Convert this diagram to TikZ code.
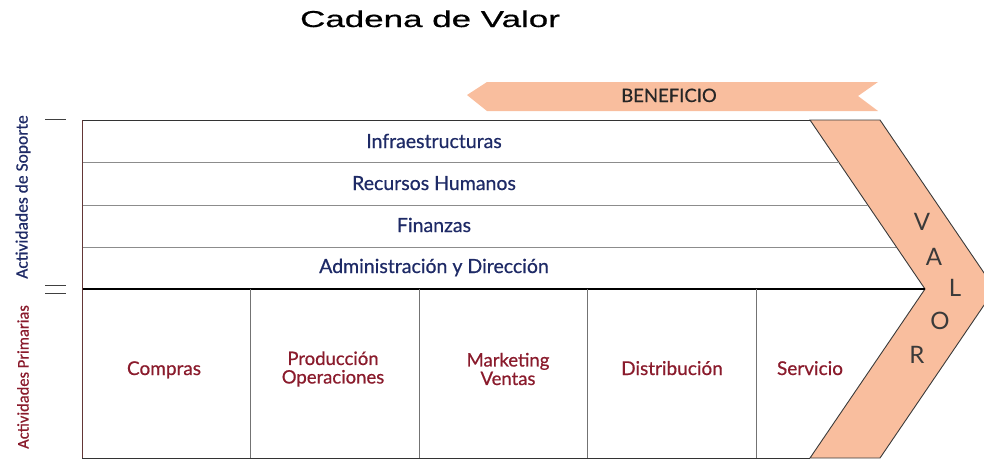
\documentclass[tikz,border=0pt]{standalone}
\usepackage{fontspec}
\setmainfont{Lato}
\newfontfamily\medfont[FakeBold=0.6]{Lato}
\newfontfamily\titlefont[FakeBold=0.5]{Liberation Sans}
\newfontfamily\sidefont[FakeBold=0.5]{Carlito}
\definecolor{navy}{HTML}{1E2A66}
\definecolor{wine}{HTML}{8A1B2C}
\definecolor{salmon}{HTML}{F9BE9E}
\definecolor{edge}{HTML}{3A3A3A}
\tikzset{
  sup/.style={anchor=base,inner sep=0pt,text=navy,font=\medfont\fontsize{19.5}{21}\selectfont},
  prim/.style={anchor=base,inner sep=0pt,text=wine,font=\medfont\fontsize{19}{21}\selectfont},
  primtwo/.style={anchor=center,inner sep=0pt,align=center,text=wine,font=\medfont\fontsize{18.5}{18.5}\selectfont},
  side/.style={rotate=90,inner sep=0pt},
  valor/.style={inner sep=0pt,text=edge,font=\fontsize{24}{26}\selectfont},
  rowline/.style={draw=gray!90,line width=0.9pt},
  colline/.style={draw=gray!90!black,line width=0.8pt},
  tickline/.style={draw=black!75,line width=1pt}
}
\begin{document}
\begin{tikzpicture}[x=1pt,y=-1pt]
\useasboundingbox (0,0) rectangle (984,459);
\clip (0,0) rectangle (984,459);
% title
\node[anchor=base,inner sep=0pt,font=\titlefont\fontsize{23}{25}\selectfont,xscale=1.52] (title) at (430,27) {Cadena de Valor};
% benefit banner
\fill[salmon] (467,95) -- (487,82) -- (878,82) -- (858,96) -- (878,111) -- (487,111) -- cycle;
\node[anchor=base,inner sep=0pt,text=black!85,font=\medfont\fontsize{18.5}{20}\selectfont] (benef) at (669,102) {BENEFICIO};
% chevron
\filldraw[fill=salmon,draw=edge,line width=0.9pt] (810,120) -- (880,120) -- (995,289) -- (880,458) -- (810,458) -- (925,289) -- cycle;
% frame lines
\draw[draw=black!80,line width=1pt] (82,120) -- (810,120);
\draw[rowline] (82,162) -- (838.6,162);
\draw[rowline] (82,205) -- (867.9,205);
\draw[rowline] (82,247) -- (896.4,247);
\draw[draw=black,line width=1.8pt] (82,289) -- (925,289);
\draw[draw=gray!70!red!60!black,line width=0.8pt] (82,120) -- (82,458);
\draw[draw=black!80,line width=1pt] (82,458) -- (810,458);
\draw[colline] (250,289) -- (250,458);
\draw[colline] (419,289) -- (419,458);
\draw[colline] (587,289) -- (587,458);
\draw[colline] (756,289) -- (756,458);
% ticks
\draw[tickline] (45,119) -- (66,119);
\draw[tickline] (45,285) -- (66,285);
\draw[tickline] (45,293) -- (66,293);
% support activities
\node[sup] (infra) at (434,148) {Infraestructuras};
\node[sup] (rrhh) at (434,190) {Recursos Humanos};
\node[sup] (fin) at (434,232) {Finanzas};
\node[sup] (adm) at (434,273) {Administración y Dirección};
% primary activities
\node[prim] (compras) at (164,375) {Compras};
\node[primtwo] (prod) at (333,369) {Producción\\Operaciones};
\node[primtwo] (mkt) at (508,369) {Marketing\\Ventas};
\node[prim] (dist) at (672,375) {Distribución};
\node[prim] (serv) at (810,375) {Servicio};
% side labels
\node[side,text=navy,font=\sidefont\fontsize{17.5}{19}\selectfont] (soporte) at (23,197) {Actividades de Soporte};
\node[side,text=wine,font=\sidefont\fontsize{16.5}{18}\selectfont] (primarias) at (23,377) {Actividades Primarias};
% VALOR
\node[valor] (v) at (922,222) {V};
\node[valor] (a) at (934,257) {A};
\node[valor] (l) at (955,288) {L};
\node[valor] (o) at (940,321) {O};
\node[valor] (r) at (917,355) {R};
\end{tikzpicture}
\end{document}
